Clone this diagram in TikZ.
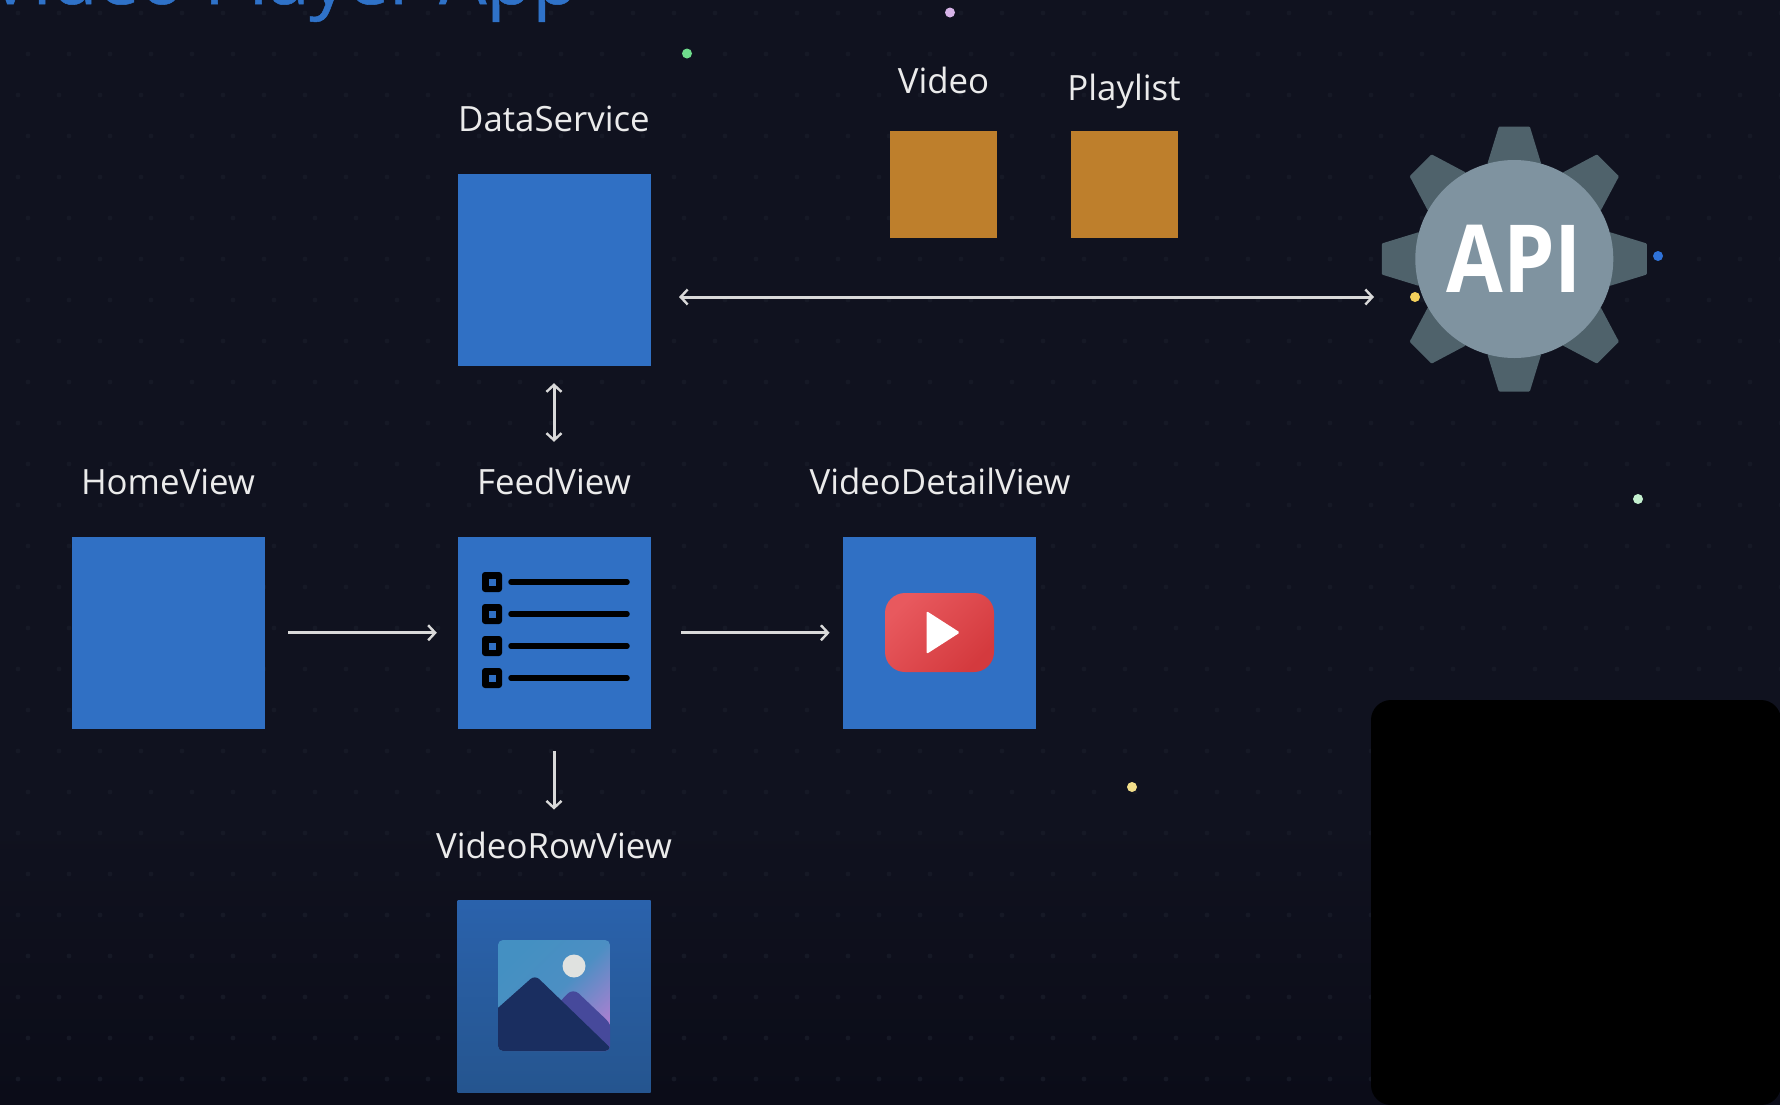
\documentclass[tikz,border=0pt]{standalone}
\usepackage{fontspec}
\setmainfont{Open Sans}
\newfontfamily\titlefont[FakeBold=0.7]{Open Sans}
\usetikzlibrary{arrows.meta,calc,shapes.geometric}
\definecolor{bgc}{HTML}{10121F}
\definecolor{bgd}{HTML}{0B0C18}
\definecolor{gridc}{HTML}{161926}
\definecolor{boxc}{HTML}{3070C4}
\definecolor{boxtop}{HTML}{2A62AC}
\definecolor{boxbot}{HTML}{25558F}
\definecolor{orangec}{HTML}{BE7F2C}
\definecolor{toothc}{HTML}{4F626B}
\definecolor{gearc}{HTML}{7F93A0}
\definecolor{titlec}{HTML}{2F72C8}
\definecolor{sparkA}{HTML}{6FDC8C}
\definecolor{sparkB}{HTML}{D7B4E8}
\definecolor{sparkC}{HTML}{2F72D8}
\definecolor{sparkD}{HTML}{F3CF5B}
\definecolor{sparkE}{HTML}{C4F0CF}
\definecolor{sparkF}{HTML}{F2DE8A}
\definecolor{playA}{HTML}{E8595E}
\definecolor{playB}{HTML}{D43A3E}
\definecolor{skyA}{HTML}{4490C2}
\definecolor{skyB}{HTML}{A880D0}
\definecolor{hillback}{HTML}{46499B}
\definecolor{hillfront}{HTML}{1A2E60}
\definecolor{sunc}{HTML}{E0E2E0}
\tikzset{
  viewbox/.style={rectangle,inner sep=0pt,fill=boxc,minimum width=193pt,minimum height=191.5pt},
  modelbox/.style={rectangle,inner sep=0pt,fill=orangec,minimum width=107pt,minimum height=107pt},
  lbl/.style={text=white!92!black,font=\fontsize{34.8}{40}\selectfont,anchor=base,inner sep=0pt},
  flow/.style={draw=white!85!black,line width=3pt,-{Straight Barb[length=7pt,width=15pt,line width=2.4pt]}},
  both/.style={draw=white!85!black,line width=3pt,{Straight Barb[length=7pt,width=15pt,line width=2.4pt]}-{Straight Barb[length=7pt,width=15pt,line width=2.4pt]}},
  spark/.style={circle,inner sep=0pt,minimum size=10pt},
  bulletbox/.style={rectangle,rounded corners=3pt,fill=black,minimum width=20pt,minimum height=20pt,inner sep=0pt},
  bulletdot/.style={rectangle,fill=boxc,minimum size=7pt,inner sep=0pt},
}
\begin{document}
\begin{tikzpicture}[x=1pt,y=-1pt]
\useasboundingbox (0,0) rectangle (1780,1104);
\clip (0,0) rectangle (1780,1104);
\fill[bgc] (0,0) rectangle (1780,1104);
\shade[top color=bgc,bottom color=bgd] (0,820) rectangle (1780,1104);
% faint dot grid
\foreach \r in {0,...,26}{\foreach \c in {0,...,43}{
  \fill[gridc] ({18+41*\c+mod(\r,2)*10},{13+41*\r}) circle (2.4pt);
}}
% title
\node[anchor=base west,inner sep=0pt,text=titlec,font=\fontsize{74.8}{80}\titlefont] (title) at (-12,4) {Video Player App};
% sparkles
\node[spark,fill=sparkA] (s1) at (687,53.5) {};
\node[spark,fill=sparkB] (s2) at (950,12.5) {};
\node[spark,fill=sparkC] (s3) at (1658,256) {};
\node[spark,fill=sparkD] (s4) at (1415,297) {};
\node[spark,fill=sparkE] (s5) at (1638,499) {};
\node[spark,fill=sparkF] (s6) at (1132,787) {};
% boxes
\node[viewbox,minimum height=192pt] (data) at (554,270) {};
\node[viewbox] (home) at (168,632.75) {};
\node[viewbox] (feed) at (554,632.75) {};
\node[viewbox] (detail) at (939.8,632.75) {};
\node[viewbox,fill=none,top color=boxtop,bottom color=boxbot] (row) at (554,996.5) {};
\node[modelbox] (video) at (943.5,184) {};
\node[modelbox] (playlist) at (1124,184) {};
% labels
\node[lbl] (dataL) at (554,131) {DataService};
\node[lbl] (videoL) at (943.5,93.5) {Video};
\node[lbl] (playlistL) at (1124,100.5) {Playlist};
\node[lbl] (homeL) at (168,494) {HomeView};
\node[lbl] (feedL) at (554,494) {FeedView};
\node[lbl] (detailL) at (940,494) {VideoDetailView};
\node[lbl] (rowL) at (554,858) {VideoRowView};
% list icon
\foreach \n/\yy in {a/582,b/614,c/646,d/678}{
  \node[bulletbox] (b\n) at (492,\yy) {};
  \node[bulletdot] (d\n) at (492,\yy) {};
  \draw[line width=5.5pt,line cap=round,black] (511,\yy) -- (627,\yy);
}
% play icon
\node[rectangle,rounded corners=20pt,inner sep=0pt,minimum width=109pt,minimum height=79pt,left color=playA,right color=playB,shading angle=45] (play) at (939.5,632.5) {};
\fill[white,rounded corners=1.5pt] (926.5,611) -- (960,632.5) -- (926.5,654) -- cycle;
% picture icon
\begin{scope}
  \clip[rounded corners=5pt] (498,940) rectangle (610,1051);
  \shade[left color=skyA,right color=skyB,middle color=skyA!92!skyB,shading angle=45] (498,940) rectangle (610,1051);
  \fill[hillback,rounded corners=8pt] (552,1051) -- (552,1010) -- (573,988) -- (612,1025) -- (612,1051) -- cycle;
  \fill[hillfront,rounded corners=6pt] (490,1060) -- (490,1015) -- (535,975) -- (625,1062) -- cycle;
\end{scope}
\fill[sunc] (574,966) circle (11.5pt);
% gear
\foreach \a in {0,45,...,315}{
  \fill[toothc,shift={(1514.3,259)},rotate=\a,rounded corners=1pt] (-27,-95) -- (-15.5,-132.5) -- (15.5,-132.5) -- (27,-95) -- cycle;
}
\node[circle,fill=gearc,minimum size=198pt,inner sep=0pt,text=white,font=\fontsize{94}{94}\selectfont\bfseries] (api) at (1514.3,259) {\scalebox{0.875}[1]{API}};
% free ends of the long arrow
\coordinate (longL) at (679,297);
\coordinate (longR) at (1374,297);
% connectors
\draw[both] (longL) -- (longR);
\draw[both,xshift=1pt,shorten <=17pt,shorten >=95pt] (data.south) -- (feed.north);
\draw[flow,yshift=1pt,shorten <=23.5pt,shorten >=20.5pt] (home.east) -- (feed.west);
\draw[flow,yshift=1pt,shorten <=30.5pt,shorten >=13.5pt] (feed.east) -- (detail.west);
\draw[flow,xshift=1pt,shorten <=22.5pt,shorten >=91pt] (feed.south) -- (row.north);
% covered region
\fill[black,rounded corners=20pt] (1371,700) rectangle (1781,1105);
\end{tikzpicture}
\end{document}
